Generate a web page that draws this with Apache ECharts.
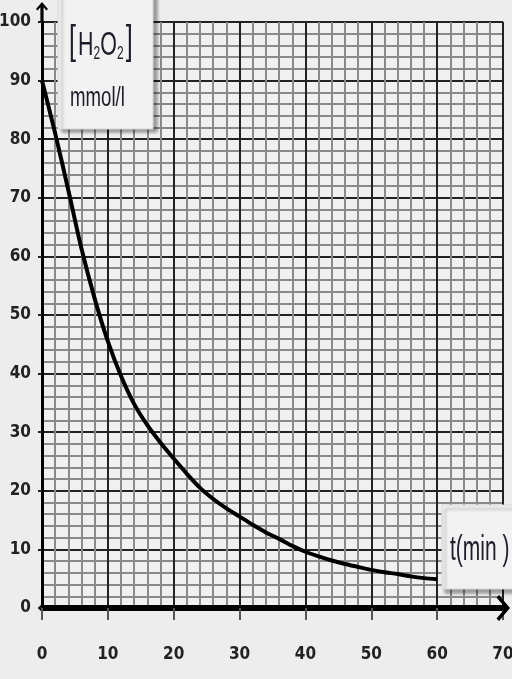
<!DOCTYPE html>
<html>
<head>
<meta charset="utf-8">
<script src="https://cdn.jsdelivr.net/npm/echarts@6/dist/echarts.min.js"></script>
<style>
  html, body { margin: 0; padding: 0; background: #ededed; }
  #chart { width: 512px; height: 679px; }
</style>
</head>
<body>
<div id="chart"></div>
<script>
// ---- data ----
const timeMin = [0, 2, 4, 6, 8, 10, 12, 14, 16, 18, 20, 22, 24, 26, 28, 30,
                 32, 34, 36, 38, 40, 42, 44, 46, 48, 50, 52, 54, 56, 58, 60];
const h2o2 = [90, 81, 71.3, 61.3, 52.8, 45.5, 39.6, 34.8, 31.2, 28.2, 25.5, 22.9, 20.5, 18.6, 17.0, 15.6,
              14.2, 12.9, 11.8, 10.6, 9.6, 8.8, 8.1, 7.5, 7.0, 6.5, 6.1, 5.8, 5.4, 5.1, 4.9];
const xTicks = [0, 10, 20, 30, 40, 50, 60, 70];
const yTicks = [0, 10, 20, 30, 40, 50, 60, 70, 80, 90, 100];
const yTitle = ['[', 'H', '2', 'O', '2', ']'];
const yUnit = 'mmol/l';
const xTitle = 't(min )';

const narrow = '"Liberation Sans Narrow", "DejaVu Sans Condensed", "Liberation Sans", sans-serif';
const arrowUp = 'path://M6,0 L12,7 L10.4,8.6 L7.6,5.2 L7.6,20 L4.4,20 L4.4,5.2 L1.6,8.6 L0,7 Z';
const arrowRight = 'path://M13,0 L26,11 L23.5,13.5 L13,4.5 L2.5,13.5 L0,11 Z M10.5,3 L15.5,3 L15.5,14 L10.5,14 Z';

const chart = echarts.init(document.getElementById('chart'), null, { renderer: 'canvas' });

chart.setOption({
  backgroundColor: '#ededed',
  animation: false,
  grid: { left: 42, right: 9, top: 22, bottom: 71, show: true, backgroundColor: '#f0f0f0',
          borderWidth: 0, containLabel: false, outerBoundsMode: 'none' },
  xAxis: {
    type: 'value',
    min: xTicks[0], max: xTicks[xTicks.length - 1], interval: 10,
    axisLine: {
      show: true, onZero: false,
      lineStyle: { color: '#000', width: 6 },
      symbol: ['none', arrowRight], symbolSize: [26, 14], symbolOffset: [0, 0]
    },
    axisTick: { show: true, length: 12, lineStyle: { color: '#555', width: 2 } },
    axisLabel: { margin: 38, fontSize: 17, fontWeight: 'bold', fontFamily: narrow, color: '#222' },
    splitLine: { show: true, lineStyle: { color: '#222', width: 2 } },
    minorTick: { show: false, splitNumber: 5 },
    minorSplitLine: { show: true, lineStyle: { color: '#8a8a8a', width: 2 } }
  },
  yAxis: {
    type: 'value',
    min: yTicks[0], max: yTicks[yTicks.length - 1], interval: 10,
    axisLine: {
      show: true, onZero: false,
      lineStyle: { color: '#000', width: 3 },
      symbol: ['none', arrowUp], symbolSize: [12, 20], symbolOffset: [0, 10]
    },
    axisTick: { show: true, length: 4, lineStyle: { color: '#222', width: 2 } },
    axisLabel: { margin: 11, fontSize: 17, fontWeight: 'bold', fontFamily: narrow, color: '#222' },
    splitLine: { show: true, lineStyle: { color: '#222', width: 2 } },
    minorTick: { show: false, splitNumber: 5 },
    minorSplitLine: { show: true, lineStyle: { color: '#8a8a8a', width: 2 } }
  },
  series: [{
    type: 'line',
    data: timeMin.map((t, i) => [t, h2o2[i]]),
    smooth: 0.3,
    showSymbol: false,
    lineStyle: { color: '#000', width: 4 },
    z: 5
  }],
  graphic: [
    {
      type: 'rect', z: 100,
      shape: { x: 58, y: -10, width: 95, height: 139 },
      style: { fill: '#f2f2f2', stroke: '#d6d6d6', lineWidth: 1,
               shadowColor: 'rgba(0,0,0,0.35)', shadowBlur: 3, shadowOffsetX: 4, shadowOffsetY: 3 }
    },
    {
      type: 'text', z: 101, x: 69, y: 43, scaleX: 0.63, scaleY: 1,
      style: {
        text: '{b|' + yTitle[0] + '} {m|' + yTitle[1] + '}{s|' + yTitle[2] + '}{m|' + yTitle[3] + '}{s|' + yTitle[4] + '} {b|' + yTitle[5] + '}',
        verticalAlign: 'middle', align: 'left',
        rich: {
          b: { fontSize: 40, fontFamily: 'Liberation Sans', fill: '#1e1e2a', verticalAlign: 'bottom' },
          m: { fontSize: 34, fontFamily: 'Liberation Sans', fill: '#1e1e2a', verticalAlign: 'bottom' },
          s: { fontSize: 19, fontFamily: 'Liberation Sans', fill: '#1e1e2a', verticalAlign: 'bottom' }
        }
      }
    },
    {
      type: 'text', z: 101, x: 70, y: 99, scaleX: 0.69, scaleY: 1,
      style: { text: yUnit, fontSize: 27, fontFamily: 'Liberation Sans', fill: '#1e1e2a',
               verticalAlign: 'middle', align: 'left' }
    },
    {
      type: 'rect', z: 100,
      shape: { x: 442, y: 505, width: 80, height: 84 },
      style: { fill: '#f2f2f2', stroke: '#d6d6d6', lineWidth: 1,
               shadowColor: 'rgba(0,0,0,0.35)', shadowBlur: 3, shadowOffsetX: 3, shadowOffsetY: 4 }
    },
    {
      type: 'text', z: 101, x: 450, y: 550, scaleX: 0.6, scaleY: 1,
      style: { text: xTitle, fontSize: 35, fontFamily: 'Liberation Sans', fill: '#1e1e2a',
               verticalAlign: 'middle', align: 'left' }
    }
  ]
});
</script>
</body>
</html>
